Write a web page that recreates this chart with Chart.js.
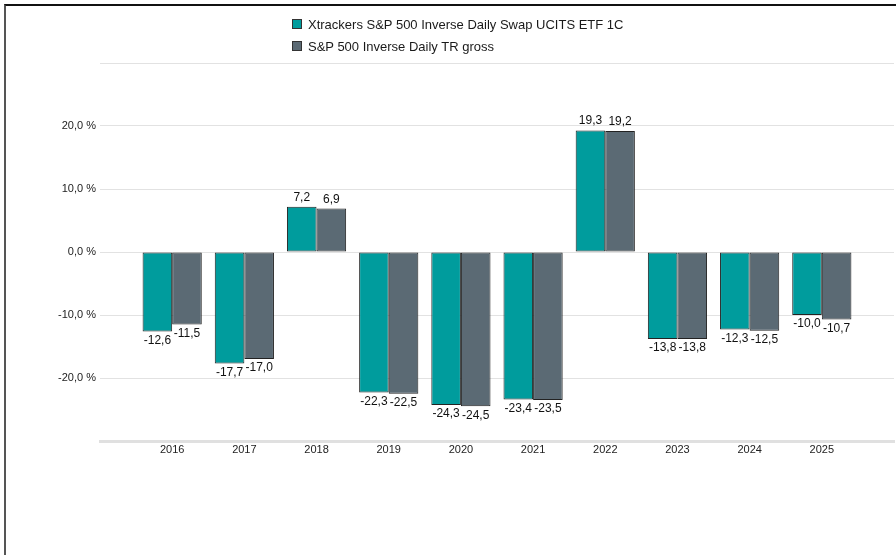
<!DOCTYPE html>
<html>
<head>
<meta charset="utf-8">
<script src="https://cdn.jsdelivr.net/npm/chart.js@4"></script>
<style>
  html, body { margin: 0; padding: 0; background: #fff; overflow: hidden; }
  #wrap { position: relative; width: 896px; height: 555px; }
  #frame { position: absolute; top: 4px; left: 4px; right: 0; bottom: 0;
           border-top: 2px solid #111; border-left: 2px solid #555; pointer-events: none; }
  #legend { position: absolute; left: 292px; top: 13px; font-family: Arial, "Liberation Sans", sans-serif;
            font-size: 13px; color: #1a1a1a; }
  #legend .item { display: flex; align-items: center; height: 22px; }
  #legend .box { width: 10px; height: 10px; border: 1px solid #333; margin-right: 6px; box-sizing: border-box; }
</style>
</head>
<body>
<div id="wrap">
  <canvas id="perfChart"></canvas>
  <div id="legend"></div>
  <div id="frame"></div>
</div>
<script>
// Datos del gráfico
const years = ['2016', '2017', '2018', '2019', '2020', '2021', '2022', '2023', '2024', '2025'];
const fundValues = [-12.6, -17.7, 7.2, -22.3, -24.3, -23.4, 19.3, -13.8, -12.3, -10.0];
const indexValues = [-11.5, -17.0, 6.9, -22.5, -24.5, -23.5, 19.2, -13.8, -12.5, -10.7];
const fundLabel = 'Xtrackers S&P 500 Inverse Daily Swap UCITS ETF 1C';
const indexLabel = 'S&P 500 Inverse Daily TR gross';
const yTicks = [-30, -20, -10, 0, 10, 20, 30];

function fmt(v) {
    return v.toFixed(1).replace('.', ',');
}

// empty slot on each side so the axis runs past the first and last year
const labels = [''].concat(years, ['']);
const pad = arr => [null].concat(arr, [null]);

// Etiquetas de valor sobre / bajo las barras
const valueLabels = {
    id: 'valueLabels',
    afterDatasetsDraw(chart) {
        const ctx = chart.ctx;
        ctx.save();
        ctx.font = '12px Arial, "Liberation Sans", sans-serif';
        ctx.fillStyle = '#111';
        ctx.textAlign = 'center';
        chart.data.datasets.forEach((ds, di) => {
            const meta = chart.getDatasetMeta(di);
            meta.data.forEach((el, i) => {
                const v = ds.data[i];
                if (v === null || v === undefined) return;
                if (v >= 0) {
                    ctx.textBaseline = 'alphabetic';
                    ctx.fillText(fmt(v), el.x, el.y - 6);
                } else {
                    ctx.textBaseline = 'top';
                    ctx.fillText(fmt(v), el.x, el.y + 3);
                }
            });
        });
        ctx.restore();
    }
};

const chart = new Chart(document.getElementById('perfChart').getContext('2d'), {
    type: 'bar',
    data: {
        labels: labels,
        datasets: [{
            label: fundLabel,
            data: pad(fundValues),
            backgroundColor: '#009c9d',
            borderColor: '#222',
            borderWidth: 1,
            borderSkipped: false,
            categoryPercentage: 0.82,
            barPercentage: 1.0
        }, {
            label: indexLabel,
            data: pad(indexValues),
            backgroundColor: '#5b6a74',
            borderColor: '#222',
            borderWidth: 1,
            borderSkipped: false,
            categoryPercentage: 0.82,
            barPercentage: 1.0
        }]
    },
    options: {
        responsive: true,
        maintainAspectRatio: false,
        animation: false,
        layout: { padding: { top: 63, right: 1, bottom: 84, left: 0 } },
        plugins: {
            legend: { display: false },
            tooltip: { enabled: false }
        },
        scales: {
            x: {
                offset: false,
                grid: { display: true, drawOnChartArea: false, drawTicks: false },
                border: { display: true, color: '#e0e0e0', width: 3 },
                ticks: {
                    color: '#222',
                    font: { family: 'Arial, "Liberation Sans", sans-serif', size: 11 },
                    padding: 2,
                    maxRotation: 0,
                    autoSkip: false
                },
                afterFit: scale => { scale.height = 30; }
            },
            y: {
                min: yTicks[0],
                max: yTicks[yTicks.length - 1],
                afterBuildTicks: scale => { scale.ticks = yTicks.map(v => ({ value: v })); },
                grid: { color: '#e2e2e2', lineWidth: 1, drawTicks: false },
                border: { display: false },
                ticks: {
                    color: '#222',
                    font: { family: 'Arial, "Liberation Sans", sans-serif', size: 11 },
                    padding: 4,
                    callback: function(value) {
                        if (Math.abs(value) >= 30) return '';
                        return fmt(value) + ' %';
                    }
                },
                afterFit: scale => { scale.width = 100; }
            }
        }
    },
    plugins: [valueLabels]
});

// Leyenda en HTML (dos filas)
const legendEl = document.getElementById('legend');
chart.data.datasets.forEach(ds => {
    const item = document.createElement('div');
    item.className = 'item';
    const box = document.createElement('span');
    box.className = 'box';
    box.style.background = ds.backgroundColor;
    const txt = document.createElement('span');
    txt.textContent = ds.label;
    item.appendChild(box);
    item.appendChild(txt);
    legendEl.appendChild(item);
});
</script>
</body>
</html>
